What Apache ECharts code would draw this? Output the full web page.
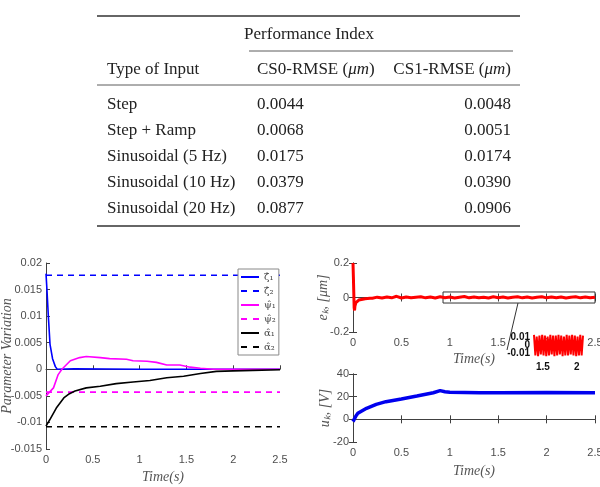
<!DOCTYPE html>
<html>
<head>
<meta charset="utf-8">
<script src="https://cdn.jsdelivr.net/npm/echarts@6/dist/echarts.min.js"></script>
<style>
html, body { margin: 0; padding: 0; background: #fff; }
#chart { width: 600px; height: 487px; }
</style>
</head>
<body>
<div id="chart"></div>
<script>
// table
const inputTypes = ['Step', 'Step + Ramp', 'Sinusoidal (5 Hz)', 'Sinusoidal (10 Hz)', 'Sinusoidal (20 Hz)']
const cs0Rmse = ['0.0044', '0.0068', '0.0175', '0.0379', '0.0877']
const cs1Rmse = ['0.0048', '0.0051', '0.0174', '0.0390', '0.0906']

// parameter variation (left plot)
const legendNames = ['ζ̂₁', 'ζ̂₂', 'ψ̂₁', 'ψ̂₂', 'α̂₁', 'α̂₂']
const zeta1T = [0, 0.01, 0.025, 0.043, 0.07, 0.1, 0.12, 0.3, 1, 2.5]
const zeta1V = [0.018, 0.015, 0.01, 0.0047, 0.002, 0.0005, 0, 0.0001, 0, 0]
const zeta2V = 0.0177
const psi1T = [0, 0.08, 0.13, 0.17, 0.26, 0.36, 0.43, 0.58, 0.68, 0.86, 0.93, 1.08, 1.18, 1.29, 1.43, 1.54, 1.65, 1.79, 2.5]
const psi1V = [-0.005, -0.0035, -0.001, 0, 0.0016, 0.0022, 0.0024, 0.0022, 0.002, 0.0019, 0.0016, 0.0015, 0.0013, 0.0008, 0.0008, 0.0004, 0.0002, 0, 0]
const psi2V = -0.0043
const alpha1T = [0, 0.04, 0.11, 0.19, 0.24, 0.31, 0.43, 0.58, 0.75, 0.93, 1.11, 1.29, 1.47, 1.65, 1.82, 2.0, 2.21, 2.5]
const alpha1V = [-0.0107, -0.0095, -0.0073, -0.0054, -0.0047, -0.0041, -0.0035, -0.0032, -0.0027, -0.0024, -0.0021, -0.0016, -0.0013, -0.0008, -0.0004, -0.0003, -0.0002, -0.0001]
const alpha2V = -0.0108

// tracking error e_k (right top)
const errT = [0, 0.004, 0.008, 0.012, 0.016, 0.02, 0.03, 0.04, 0.06, 0.08, 0.1, 0.125, 0.15, 0.175, 0.2,
  0.25, 0.3, 0.35, 0.4, 0.45, 0.5, 0.55, 0.6, 0.65, 0.7,
  0.75, 0.8, 0.85, 0.9, 0.95, 1, 1.05, 1.1, 1.15, 1.2,
  1.25, 1.3, 1.35, 1.4, 1.45, 1.5, 1.55, 1.6, 1.65, 1.7,
  1.75, 1.8, 1.85, 1.9, 1.95, 2, 2.05, 2.1, 2.15, 2.2,
  2.25, 2.3, 2.35, 2.4, 2.45, 2.5]
const errV = [0.2, 0.12, 0.03, -0.06, -0.075, -0.05, -0.03, -0.022, -0.015, -0.012, -0.01, -0.007, -0.006, -0.004, -0.004,
  0.002, -0.003, 0.003, -0.002, 0.007, -0.003, 0.003, -0.002, 0.002, 0.004,
  -0.002, 0.003, -0.003, 0.004, -0.001, 0.003, -0.003, 0.002, 0.006, -0.002,
  0.003, -0.002, 0.002, -0.003, 0.004, -0.001, 0.003, -0.003, 0.002, 0.004,
  -0.002, 0.003, -0.003, 0.002, 0.004, -0.002, 0.003, -0.002, 0.003, -0.003,
  0.002, 0.004, -0.002, 0.003, -0.002, 0.002]
const zoomBox = [[0.93, 0.032], [2.5, -0.032]]

// inset zoom of e_k
const insetT = [1.37, 1.39, 1.41, 1.43, 1.45, 1.47, 1.49, 1.51, 1.53, 1.55,
  1.57, 1.59, 1.61, 1.63, 1.65, 1.67, 1.69, 1.71, 1.73, 1.75,
  1.77, 1.79, 1.81, 1.83, 1.85, 1.87, 1.89, 1.91, 1.93, 1.95,
  1.97, 1.99, 2.01, 2.03, 2.05, 2.07, 2.09]
const insetV = [0.013, -0.012, 0.011, -0.013, 0.012, -0.011, 0.013, -0.012, 0.012, -0.013,
  0.011, -0.012, 0.013, -0.011, 0.012, -0.013, 0.012, -0.012, 0.013, -0.011,
  0.012, -0.013, 0.011, -0.012, 0.013, -0.012, 0.012, -0.011, 0.013, -0.012,
  0.012, -0.013, 0.011, -0.012, 0.013, -0.012, 0.012]
const insetYTicks = [-0.01, 0.01]
const insetYZero = [0]
const insetXTicks = [1.5, 2]

// control input u_k (right bottom)
const ctrlT = [0, 0.01, 0.03, 0.05, 0.14, 0.24, 0.34, 0.5, 0.66, 0.83, 0.9, 0.95, 1.0, 1.31, 1.52, 2.0, 2.5]
const ctrlV = [-2, -1, 3, 5.3, 9.7, 13.2, 15.6, 18, 20.6, 23.5, 25.3, 24.4, 24, 23.5, 23.5, 23.6, 23.5]

const zip = (t, v) => t.map((x, i) => [x, v[i]])
const flat = (v) => [[0, v], [2.5, v]]

const sans = '"Liberation Sans", Arial, sans-serif'
const serif = '"Liberation Serif", serif'
const axisColor = '#404040'
const labelColor = '#4d4d4d'

const tickLabel = { color: labelColor, fontSize: 11, fontFamily: sans }
const axisName = { color: '#555', fontSize: 14, fontStyle: 'italic', fontFamily: serif }
const insetLabel = { hideOverlap: false, color: '#111', fontWeight: 'bold', fontSize: 10, fontFamily: sans }

const solidIcon = 'path://M0,0 H18 V2 H0 Z'
const dashIcon = 'path://M0,0 H6 V2 H0 Z M12,0 H18 V2 H12 Z'

const valueX = (gridIndex, extra) => Object.assign({
  type: 'value', gridIndex, min: 0, max: 2.5, interval: 0.5,
  axisLine: { lineStyle: { color: axisColor } },
  axisTick: { inside: true, length: 4, lineStyle: { color: axisColor } },
  axisLabel: Object.assign({ margin: 5 }, tickLabel),
  splitLine: { show: false }
}, extra)

const valueY = (gridIndex, min, max, interval, extra) => Object.assign({
  type: 'value', gridIndex, min, max, interval,
  axisLine: { show: true, lineStyle: { color: axisColor } },
  axisTick: { show: true, inside: true, length: 4, lineStyle: { color: axisColor } },
  axisLabel: Object.assign({ margin: 4 }, tickLabel),
  splitLine: { show: false }
}, extra)

const insetY = (ticks) => ({
  type: 'value', gridIndex: 3, min: -0.014, max: 0.014, position: 'left', offset: 0,
  axisLine: { show: false }, axisTick: { show: false }, splitLine: { show: false },
  axisLabel: Object.assign({ customValues: ticks, margin: 4 }, insetLabel)
})

const hiddenLabels = { axisLabel: { show: false } }
const yName = (name, nameGap) => ({ name, nameLocation: 'middle', nameGap, nameMoveOverlap: false, nameTextStyle: axisName })

// table drawn as graphic
const graphic = []
const hRule = (x1, x2, y, w) => graphic.push({
  type: 'line', shape: { x1, y1: y, x2, y2: y }, style: { stroke: '#333', lineWidth: w }
})
const cell = (x, y, text, align) => graphic.push({
  type: 'text', x, y,
  style: {
    text, align, verticalAlign: 'middle', fill: '#222',
    font: '17px ' + serif,
    rich: { i: { fontStyle: 'italic', fontSize: 17, fontFamily: serif, fill: '#222' } }
  }
})
hRule(97, 520, 16, 1.6)
cell(309, 35, 'Performance Index', 'center')
hRule(249, 513, 51, 0.8)
cell(107, 70, 'Type of Input', 'left')
cell(257, 70, 'CS0-RMSE ({i|μm})', 'left')
cell(511, 70, 'CS1-RMSE ({i|μm})', 'right')
hRule(97, 520, 85, 0.8)
const rowY = [105, 131, 157, 183, 209]
inputTypes.forEach((name, i) => {
  cell(107, rowY[i], name, 'left')
  cell(257, rowY[i], cs0Rmse[i], 'left')
  cell(511, rowY[i], cs1Rmse[i], 'right')
})
hRule(97, 520, 226, 1.6)
// pointer from zoom box to inset
graphic.push({
  type: 'line', shape: { x1: 518, y1: 303, x2: 507, y2: 350 },
  style: { stroke: '#333', lineWidth: 1 }, z: 10
})

const chart = echarts.init(document.getElementById('chart'))
chart.setOption({
  animation: false,
  backgroundColor: '#fff',
  graphic,
  grid: [
    { left: 46, top: 263, width: 234, height: 186, outerBoundsMode: 'none' },
    { left: 353, top: 263, width: 242, height: 69, outerBoundsMode: 'none' },
    { left: 353, top: 374, width: 242, height: 68, outerBoundsMode: 'none' },
    { left: 534, top: 334, width: 49, height: 23, outerBoundsMode: 'none' }
  ],
  legend: {
    data: legendNames.map((name, i) => ({ name, icon: i % 2 ? dashIcon : solidIcon })),
    left: 238, top: 269, orient: 'vertical',
    itemWidth: 18, itemHeight: 2, itemGap: 2,
    backgroundColor: '#fff', borderColor: '#888', borderWidth: 1,
    padding: [2, 3, 2, 3],
    textStyle: { fontFamily: '"DejaVu Serif", serif', fontSize: 10, color: '#444', lineHeight: 12 }
  },
  xAxis: [
    valueX(0, { name: 'Time(s)', nameLocation: 'middle', nameGap: 21, nameTextStyle: axisName }),
    valueX(1, { name: 'Time(s)', nameLocation: 'middle', nameGap: 20, nameTextStyle: axisName }),
    valueX(1, Object.assign({ position: 'top' }, hiddenLabels)),
    valueX(2, { name: 'Time(s)', nameLocation: 'middle', nameGap: 22, nameTextStyle: axisName }),
    valueX(2, Object.assign({ position: 'top' }, hiddenLabels)),
    {
      type: 'value', gridIndex: 3, min: 1.37, max: 2.09,
      axisLine: { show: false }, axisTick: { show: false }, splitLine: { show: false },
      axisLabel: Object.assign({ customValues: insetXTicks, margin: 5 }, insetLabel)
    }
  ],
  yAxis: [
    valueY(0, -0.015, 0.02, 0.005, yName('Parameter Variation', 32)),
    valueY(1, -0.2, 0.2, 0.2, yName('eₖ, [μm]', 23)),
    valueY(1, -0.2, 0.2, 0.2, Object.assign({ position: 'right' }, hiddenLabels)),
    valueY(2, -20, 40, 20, yName('uₖ, [V]', 21)),
    valueY(2, -20, 40, 20, Object.assign({ position: 'right' }, hiddenLabels)),
    insetY(insetYTicks),
    insetY(insetYZero)
  ],
  series: [
    { name: legendNames[0], type: 'line', xAxisIndex: 0, yAxisIndex: 0, symbol: 'none', data: zip(zeta1T, zeta1V), lineStyle: { color: '#0000ff', width: 1.6 }, itemStyle: { color: '#0000ff' } },
    { name: legendNames[1], type: 'line', xAxisIndex: 0, yAxisIndex: 0, symbol: 'none', data: flat(zeta2V), lineStyle: { color: '#0000ff', width: 1.6, type: [6, 5] }, itemStyle: { color: '#0000ff' } },
    { name: legendNames[2], type: 'line', xAxisIndex: 0, yAxisIndex: 0, symbol: 'none', data: zip(psi1T, psi1V), lineStyle: { color: '#ff00ff', width: 1.6 }, itemStyle: { color: '#ff00ff' } },
    { name: legendNames[3], type: 'line', xAxisIndex: 0, yAxisIndex: 0, symbol: 'none', data: flat(psi2V), lineStyle: { color: '#ff00ff', width: 1.6, type: [6, 5] }, itemStyle: { color: '#ff00ff' } },
    { name: legendNames[4], type: 'line', xAxisIndex: 0, yAxisIndex: 0, symbol: 'none', data: zip(alpha1T, alpha1V), lineStyle: { color: '#000', width: 1.6 }, itemStyle: { color: '#000' } },
    { name: legendNames[5], type: 'line', xAxisIndex: 0, yAxisIndex: 0, symbol: 'none', data: flat(alpha2V), lineStyle: { color: '#000', width: 1.6, type: [6, 5] }, itemStyle: { color: '#000' } },
    {
      name: 'e', type: 'line', xAxisIndex: 1, yAxisIndex: 1, symbol: 'none',
      data: zip(errT, errV), lineStyle: { color: '#ff0000', width: 3 },
      markArea: {
        silent: true,
        itemStyle: { color: 'rgba(0,0,0,0)', borderColor: '#333', borderWidth: 1 },
        data: [[{ coord: zoomBox[0] }, { coord: zoomBox[1] }]]
      }
    },
    { name: 'u', type: 'line', xAxisIndex: 3, yAxisIndex: 3, symbol: 'none', data: zip(ctrlT, ctrlV), lineStyle: { color: '#0000ee', width: 3.5 } },
    { name: 'inset', type: 'line', xAxisIndex: 5, yAxisIndex: 5, symbol: 'none', data: zip(insetT, insetV), lineStyle: { color: '#ff0000', width: 2 } }
  ]
})
</script>
</body>
</html>
